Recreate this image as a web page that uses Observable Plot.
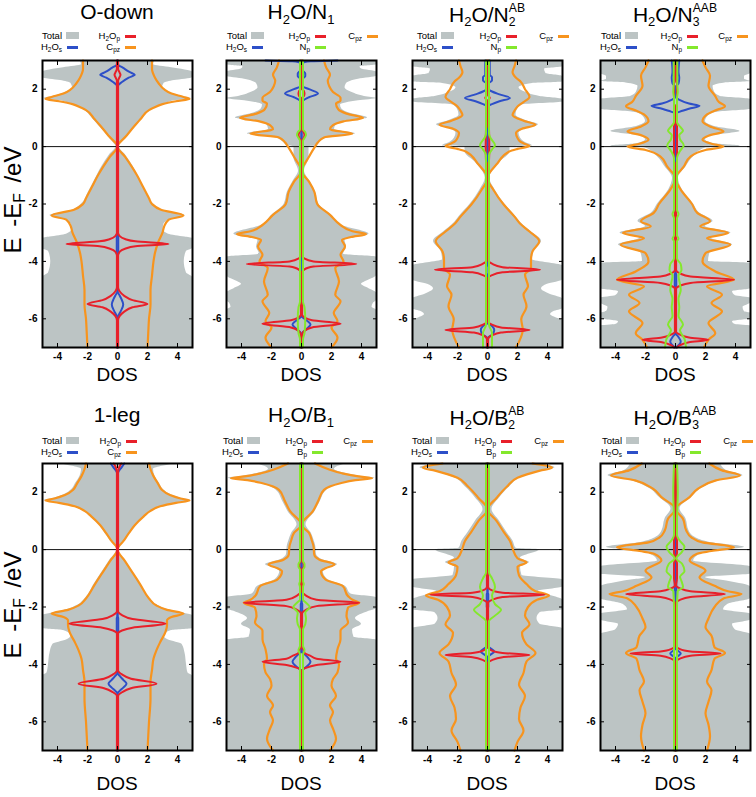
<!DOCTYPE html>
<html><head><meta charset="utf-8">
<script src="https://cdn.jsdelivr.net/npm/d3@7"></script>
<script src="https://cdn.jsdelivr.net/npm/@observablehq/plot@0.6"></script>
<style>
body{margin:0;background:#fff;font-family:"Liberation Sans",Arial,sans-serif;color:#000;}
#wrap{position:relative;width:756px;height:797px;overflow:hidden;background:#fff;}
.pan{position:absolute;}
.title{position:absolute;font-size:21px;line-height:22px;white-space:nowrap;transform:translateX(-50%);}
.dos{position:absolute;font-size:19px;line-height:20px;white-space:nowrap;transform:translateX(-50%);}
.ylab{position:absolute;font-size:24px;line-height:24px;white-space:nowrap;transform:translate(-50%,-50%) rotate(-90deg);word-spacing:4px;}
.ylab sub{font-size:0.65em;vertical-align:-0.25em;line-height:0;}
.title sub{font-size:0.62em;vertical-align:-0.35em;line-height:0;}
.st{display:inline-block;vertical-align:-0.4em;font-size:0.58em;line-height:1.18em;text-align:left;}
.st span{display:block;}
.leg{position:absolute;font-size:9.5px;line-height:9px;height:9px;white-space:nowrap;transform:translateX(-100%);}
.leg sub{font-size:0.68em;vertical-align:-0.25em;line-height:0;}
.sw{position:absolute;}
</style>
</head><body><div id="wrap"></div>
<script>
// ---------- data: [energy (eV), DOS half-width] ----------
// Panel 1: O-down
const p1_total=[[3.0,2.5],[2.85,2.4],[2.75,3.6],[2.6,5],[2.4,5],[2.3,3.8],[2.2,3.1],[2.05,3.0],[1.9,3.4],[1.75,4.3],[1.68,4.9],[1.6,3.8],[1.5,3.2],[1.3,2.3],[1.0,1.7],[0.7,1.2],[0.4,0.7],[0.15,0.3],[0,0.1],[-0.3,0.55],[-0.7,1.05],[-1.2,1.55],[-1.6,1.95],[-2.0,2.4],[-2.25,3.2],[-2.4,4.5],[-2.55,3.5],[-2.7,3.1],[-2.9,3.05],[-3.05,3.4],[-3.15,4.5],[-3.2,5],[-3.55,5],[-3.65,4.6],[-4.0,4.45],[-4.4,4.6],[-4.55,5],[-7,5]];
const p1_cpz=[[3.0,2.3],[2.7,2.3],[2.4,2.5],[2.2,2.75],[2.0,3.1],[1.85,3.6],[1.73,4.4],[1.66,4.8],[1.58,3.9],[1.48,3.0],[1.35,2.4],[1.27,2.1],[1.0,1.6],[0.7,1.1],[0.35,0.55],[0,0],[-0.35,0.5],[-0.7,0.95],[-1.0,1.3],[-1.4,1.7],[-1.8,2.1],[-2.0,2.3],[-2.2,2.9],[-2.4,4.4],[-2.55,3.4],[-2.8,3.1],[-3.0,3.0],[-3.35,2.7],[-3.7,2.5],[-4.0,2.4],[-4.5,2.3],[-5.0,2.2],[-5.5,2.2],[-6.0,2.1],[-6.5,2.05],[-7,2.0]];
const p1_h2os=[[3.0,0],[2.85,0.05],[2.75,0.35],[2.6,0.8],[2.5,1.15],[2.4,0.75],[2.25,0.3],[2.14,0.05],[2.0,0],[-3.0,0],[-3.1,0.05],[-3.7,0.05],[-3.8,0],[-5.05,0],[-5.15,0.1],[-5.3,0.25],[-5.5,0.38],[-5.7,0.25],[-5.85,0.1],[-5.95,0],[-7,0]];
const p1_h2op=[[3.0,0.04],[2.7,0.04],[2.6,0.12],[2.5,0.2],[2.4,0.12],[2.3,0.04],[-3.0,0.04],[-3.12,0.15],[-3.22,0.5],[-3.3,1.2],[-3.39,3.4],[-3.47,1.2],[-3.56,0.5],[-3.66,0.15],[-3.8,0.04],[-4.9,0.04],[-5.05,0.15],[-5.2,0.45],[-5.35,1.0],[-5.48,2.0],[-5.6,1.0],[-5.75,0.45],[-5.9,0.15],[-6.05,0.04],[-7,0.04]];
// Panel 2: H2O/N1
const p2_total=[[3.0,5],[2.85,5],[2.78,3.9],[2.7,4.0],[2.6,5],[2.45,5],[2.35,3.8],[2.2,3.0],[2.05,2.9],[1.9,3.3],[1.75,4.2],[1.68,5],[1.6,3.8],[1.45,2.6],[1.3,2.7],[1.15,3.3],[1.0,4.4],[0.88,3.0],[0.75,2.3],[0.6,2.2],[0.45,3.6],[0.32,1.8],[0.15,1.2],[0.02,0.95],[0,0.5],[-0.4,0.5],[-0.85,0.2],[-1.2,0.55],[-1.6,0.95],[-2.0,1.15],[-2.4,2.0],[-2.75,2.7],[-3.05,4.5],[-3.25,2.9],[-3.5,3.0],[-3.75,2.8],[-3.85,5],[-4.5,5],[-4.65,4.5],[-4.8,4.0],[-4.95,4.5],[-5.1,5],[-5.35,5],[-5.45,4.8],[-5.6,4.7],[-5.7,5],[-7,5]];
const p2_cpz=[[3.0,1.5],[2.75,1.65],[2.5,1.9],[2.3,1.75],[2.1,1.85],[1.9,2.1],[1.7,2.6],[1.6,2.6],[1.5,2.3],[1.3,2.45],[1.15,3.0],[1.0,4.1],[0.88,2.8],[0.75,2.1],[0.6,1.9],[0.45,3.4],[0.32,1.5],[0.15,1.1],[0,0.9],[-0.4,0.45],[-0.85,0],[-1.22,0.5],[-1.57,0.85],[-2.0,1.05],[-2.38,1.9],[-2.73,2.6],[-2.95,3.4],[-3.05,4.3],[-3.15,3.3],[-3.25,2.7],[-3.48,2.9],[-3.77,2.6],[-4.0,2.8],[-4.23,2.25],[-4.7,2.5],[-5.16,2.25],[-5.39,2.6],[-5.8,2.15],[-6.08,2.4],[-6.3,2.0],[-6.66,2.4],[-7,2.0]];
const p2_h2os=[[3.0,2.4],[2.97,0.6],[2.93,0.1],[2.65,0.1],[2.55,0.25],[2.45,0.25],[2.35,0.05],[2.1,0.1],[2.0,0.5],[1.85,1.1],[1.72,0.5],[1.6,0.1],[1.5,0],[-3.9,0],[-4.0,0.05],[-4.3,0.05],[-4.4,0],[-5.9,0],[-6.0,0.2],[-6.2,0.6],[-6.35,0.35],[-6.5,0.05],[-7,0]];
const p2_h2op=[[3.0,0.04],[2.0,0.04],[1.95,0.15],[1.85,0.2],[1.75,0.15],[1.7,0.04],[0.6,0.04],[0.5,0.15],[0.4,0.2],[0.3,0.15],[0.2,0.04],[-3.8,0.04],[-3.9,0.2],[-4.0,0.8],[-4.09,3.65],[-4.18,0.8],[-4.28,0.2],[-4.4,0.04],[-5.85,0.04],[-5.95,0.2],[-6.05,0.7],[-6.17,2.6],[-6.3,0.7],[-6.42,0.2],[-6.55,0.04],[-7,0.04]];
const p2_np=[[3.0,0.1],[0.6,0.1],[0.5,0.25],[0.4,0.3],[0.3,0.2],[0.2,0.1],[-5.4,0.1],[-5.6,0.2],[-6.0,0.25],[-6.5,0.2],[-6.7,0.1],[-7,0.1]];
// Panel 3: H2O/N2^AB
const p3_total=[[3.0,5],[2.78,5],[2.7,3.8],[2.55,3.9],[2.45,5],[2.25,5],[2.2,3.0],[2.05,2.1],[1.9,2.5],[1.75,3.5],[1.65,5],[1.55,5],[1.45,2.3],[1.3,2.0],[1.1,1.9],[0.9,2.6],[0.76,3.4],[0.6,2.4],[0.47,2.1],[0.3,2.2],[0.15,2.5],[0.02,3.0],[0,1.5],[-0.17,1.5],[-0.58,0.75],[-1.1,0.15],[-1.5,0.5],[-2.0,1.15],[-2.44,1.9],[-2.67,2.25],[-2.96,2.9],[-3.3,3.6],[-3.65,3.1],[-3.94,3.0],[-4.05,4.0],[-4.15,5],[-4.65,5],[-4.8,4.0],[-4.95,3.6],[-5.15,4.2],[-5.3,5],[-5.65,5],[-5.75,4.4],[-5.85,4.2],[-5.97,4.6],[-6.05,5],[-7,5]];
const p3_cpz=[[3.0,1.9],[2.8,1.8],[2.6,1.67],[2.4,1.9],[2.27,2.2],[2.0,2.5],[1.74,2.8],[1.55,2.4],[1.4,2.0],[1.25,1.8],[1.1,1.67],[0.9,2.4],[0.76,3.2],[0.62,2.3],[0.47,1.9],[0.3,2.0],[0.17,2.2],[0.07,2.6],[0.02,2.8],[-0.08,2.0],[-0.17,1.45],[-0.58,0.67],[-1.1,0],[-1.51,0.4],[-2.0,1.05],[-2.44,1.8],[-2.67,2.15],[-2.96,2.8],[-3.3,3.45],[-3.65,3.0],[-3.94,2.9],[-4.23,2.9],[-4.46,2.5],[-4.87,2.7],[-5.16,2.4],[-5.56,2.6],[-6.02,2.25],[-6.37,2.35],[-7,1.9]];
const p3_h2os=[[3.0,0.15],[2.5,0.15],[2.42,0.3],[2.3,0.3],[2.22,0.1],[2.0,0.05],[1.92,0.3],[1.82,0.8],[1.69,1.5],[1.58,0.8],[1.48,0.3],[1.4,0],[-4.1,0],[-4.2,0.08],[-4.4,0.08],[-4.5,0],[-6.15,0],[-6.25,0.3],[-6.4,0.45],[-6.55,0.3],[-6.65,0.05],[-7,0]];
const p3_h2op=[[3.0,0.04],[1.8,0.04],[1.7,0.15],[1.6,0.04],[0.75,0.04],[0.6,0.1],[0,0.12],[-0.5,0.1],[-0.6,0.04],[-3.95,0.04],[-4.08,0.3],[-4.2,1.0],[-4.29,3.5],[-4.38,1.0],[-4.48,0.3],[-4.6,0.04],[-6.1,0.04],[-6.2,0.3],[-6.3,0.9],[-6.39,2.8],[-6.48,0.9],[-6.58,0.3],[-6.7,0.04],[-7,0.04]];
const p3_np=[[3.0,0.1],[0.45,0.1],[0.3,0.2],[0.05,0.5],[-0.1,0.3],[-0.3,0.1],[-6.2,0.1],[-6.5,0.3],[-7,0.3]];
// Panel 4: H2O/N3^AAB
const p4_total=[[3.0,5],[2.55,5],[2.45,4.6],[2.35,4.6],[2.27,5],[2.22,3.3],[2.1,2.5],[1.9,2.6],[1.75,3.0],[1.65,5],[1.3,5],[1.2,2.8],[1.12,2.3],[0.88,2.0],[0.7,2.6],[0.53,4.3],[0.38,2.4],[0.24,2.0],[0.1,2.6],[0.02,4.3],[0,4.3],[-0.05,2.0],[-0.35,1.2],[-0.7,0.7],[-1.1,0.2],[-1.5,0.45],[-2.0,1.2],[-2.31,1.6],[-2.6,2.5],[-2.78,2.0],[-3.01,3.7],[-3.19,2.4],[-3.42,3.8],[-3.71,2.3],[-4.0,2.2],[-4.06,5],[-4.95,5],[-5.05,3.8],[-5.2,4.0],[-5.28,5],[-5.45,5],[-5.6,4.5],[-5.75,4.6],[-5.8,5],[-6.0,5],[-6.1,3.8],[-6.2,4.0],[-6.25,5],[-7,5]];
const p4_cpz=[[3.0,1.8],[2.76,2.0],[2.47,2.3],[2.12,2.2],[1.76,2.65],[1.55,2.9],[1.41,3.3],[1.25,2.6],[1.12,2.1],[0.88,1.8],[0.7,2.3],[0.53,3.2],[0.38,2.2],[0.24,1.8],[0.1,2.4],[0,3.2],[-0.12,2.0],[-0.35,1.0],[-0.7,0.55],[-1.1,0],[-1.5,0.35],[-2.0,1.1],[-2.31,1.45],[-2.6,2.3],[-2.78,1.65],[-3.01,3.5],[-3.19,2.1],[-3.42,3.65],[-3.71,2.0],[-4.0,1.8],[-4.35,2.65],[-4.64,3.9],[-4.87,2.1],[-5.16,3.1],[-5.45,2.4],[-5.74,3.1],[-6.15,2.2],[-6.5,2.65],[-6.73,2.2],[-7,1.9]];
const p4_h2os=[[3.0,0.25],[2.6,0.2],[2.4,0.25],[2.2,0.2],[2.1,0.05],[1.7,0.05],[1.62,0.3],[1.5,0.9],[1.42,1.6],[1.32,0.9],[1.22,0.3],[1.15,0],[-4.4,0],[-4.45,0.05],[-4.85,0.05],[-4.9,0],[-6.5,0],[-6.6,0.15],[-6.8,0.35],[-6.95,0.15],[-7,0.05]];
const p4_h2op=[[3.0,0.04],[2.3,0.04],[2.2,0.1],[1.5,0.1],[1.4,0.04],[0.8,0.04],[0.7,0.1],[-0.5,0.1],[-0.6,0.04],[-4.3,0.04],[-4.42,0.3],[-4.53,1.0],[-4.64,3.9],[-4.75,1.0],[-4.85,0.3],[-4.95,0.04],[-6.45,0.04],[-6.55,0.3],[-6.65,0.9],[-6.73,2.2],[-6.82,0.9],[-6.92,0.3],[-7,0.1]];
const p4_np=[[3.0,0.12],[2.2,0.12],[1.9,0.15],[1.7,0.1],[0.85,0.1],[0.7,0.3],[0.55,0.5],[0.4,0.25],[0.25,0.3],[0.05,0.55],[-0.15,0.3],[-0.4,0.1],[-2.2,0.1],[-2.35,0.2],[-2.5,0.1],[-3.1,0.1],[-3.2,0.2],[-3.3,0.1],[-3.9,0.1],[-4.1,0.35],[-4.3,0.4],[-4.5,0.2],[-4.8,0.3],[-5.0,0.35],[-5.3,0.2],[-5.6,0.25],[-5.9,0.2],[-6.2,0.5],[-6.4,0.3],[-6.7,0.6],[-7,0.7]];
// Panel 5: 1-leg
const p5_total=[[3.0,3.9],[2.9,3.0],[2.8,2.4],[2.56,2.5],[2.3,2.8],[2.09,3.05],[1.9,3.6],[1.78,4.3],[1.71,4.9],[1.63,4.0],[1.51,3.0],[1.35,2.3],[1.16,1.85],[0.85,1.2],[0.58,0.85],[0.3,0.45],[0,0.05],[-0.4,0.55],[-0.8,1.05],[-1.2,1.55],[-1.7,2.15],[-1.95,2.7],[-2.1,3.4],[-2.23,4.5],[-2.3,5],[-2.75,5],[-2.82,3.6],[-3.0,3.1],[-3.15,3.4],[-3.3,4.3],[-3.6,4.5],[-4.0,4.6],[-4.3,4.7],[-4.4,5],[-7,5]];
const p5_cpz=[[3.0,2.1],[2.8,2.2],[2.56,2.4],[2.3,2.7],[2.09,2.95],[1.9,3.5],[1.78,4.2],[1.71,4.8],[1.63,3.9],[1.51,2.85],[1.35,2.2],[1.16,1.75],[0.85,1.15],[0.58,0.77],[0.3,0.4],[0,0],[-0.4,0.5],[-0.8,1.0],[-1.2,1.5],[-1.7,2.1],[-1.95,2.6],[-2.1,3.3],[-2.23,4.4],[-2.35,3.6],[-2.47,3.3],[-2.64,3.3],[-2.87,3.2],[-3.22,2.85],[-3.5,2.6],[-3.8,2.4],[-4.2,2.3],[-4.6,2.2],[-5.2,2.2],[-6.0,2.1],[-7,2.0]];
const p5_h2os=[[3.0,0.45],[2.85,0.25],[2.7,0.05],[2.6,0],[-2.3,0],[-2.4,0.05],[-2.85,0.05],[-2.95,0],[-4.3,0],[-4.4,0.15],[-4.55,0.4],[-4.67,0.6],[-4.8,0.4],[-4.92,0.15],[-5.02,0],[-7,0]];
const p5_h2op=[[3.0,0.25],[2.85,0.1],[2.7,0.04],[-2.15,0.04],[-2.28,0.3],[-2.42,1.0],[-2.58,3.2],[-2.72,1.0],[-2.82,0.3],[-2.92,0.04],[-4.2,0.04],[-4.35,0.3],[-4.5,0.9],[-4.67,2.6],[-4.83,0.9],[-4.97,0.3],[-5.1,0.04],[-7,0.04]];
// Panel 6: H2O/B1
const p6_total=[[3.0,3.0],[2.8,2.2],[2.66,2.9],[2.55,4.0],[2.49,4.9],[2.42,3.8],[2.31,2.8],[2.08,1.7],[1.68,1.25],[1.33,0.9],[0.87,0.3],[0.58,0.65],[0.3,0.85],[0.12,0.95],[-0.17,1.0],[-0.35,1.4],[-0.52,2.4],[-0.65,1.8],[-0.75,1.45],[-1.04,1.75],[-1.27,2.9],[-1.55,3.3],[-1.68,5],[-2.05,5],[-2.15,4.5],[-2.4,3.6],[-2.6,4.0],[-2.8,3.4],[-3.05,3.5],[-3.15,5],[-7,5]];
const p6_cpz=[[3.0,0.9],[2.8,1.8],[2.66,2.7],[2.55,3.8],[2.49,4.7],[2.42,3.6],[2.31,2.6],[2.08,1.5],[1.68,1.1],[1.33,0.75],[0.87,0],[0.58,0.5],[0.3,0.7],[0.12,0.8],[-0.17,0.85],[-0.35,1.2],[-0.52,2.2],[-0.65,1.6],[-0.75,1.3],[-1.04,1.6],[-1.27,2.75],[-1.62,3.1],[-1.75,3.4],[-1.85,3.85],[-2.02,3.1],[-2.31,3.0],[-2.54,3.1],[-2.83,2.6],[-3.12,2.6],[-3.47,2.4],[-3.8,2.3],[-3.99,2.5],[-4.28,2.4],[-4.51,2.1],[-4.74,2.0],[-5.09,2.3],[-5.43,1.9],[-5.66,2.1],[-5.95,1.9],[-6.24,2.1],[-6.59,2.3],[-7,1.9]];
const p6_h2os=[[3.0,0],[-1.85,0],[-1.9,0.05],[-2.2,0.05],[-2.25,0],[-3.55,0],[-3.62,0.15],[-3.75,0.4],[-3.91,0.6],[-4.05,0.4],[-4.15,0.15],[-4.22,0],[-7,0]];
const p6_h2op=[[3.0,0.04],[-0.4,0.04],[-0.5,0.15],[-0.6,0.15],[-0.7,0.04],[-1.45,0.04],[-1.6,0.3],[-1.75,1.0],[-1.85,3.85],[-1.97,1.0],[-2.1,0.3],[-2.22,0.04],[-3.4,0.04],[-3.5,0.15],[-3.6,0.2],[-3.7,0.6],[-3.8,1.0],[-3.91,2.6],[-4.02,1.0],[-4.12,0.3],[-4.2,0.04],[-7,0.04]];
const p6_bp=[[3.0,0.1],[-0.4,0.1],[-0.5,0.2],[-0.6,0.2],[-0.7,0.1],[-1.1,0.1],[-1.2,0.15],[-1.3,0.1],[-1.75,0.1],[-1.85,0.3],[-2.0,0.55],[-2.2,0.25],[-2.4,0.3],[-2.6,0.25],[-2.78,0.1],[-3.35,0.1],[-3.5,0.2],[-3.65,0.1],[-7,0.1]];
// Panel 7: H2O/B2^AB
const p7_total=[[3.0,3.3],[2.85,4.5],[2.75,3.7],[2.5,2.2],[2.2,1.5],[1.8,0.8],[1.4,0.3],[1.0,0.8],[0.6,1.3],[0.3,1.7],[0.05,1.9],[0,3.5],[-0.3,2.2],[-0.45,2.8],[-0.6,2.2],[-0.9,2.3],[-1.05,5],[-1.3,5],[-1.45,3.4],[-1.6,4.2],[-1.75,5],[-2.1,5],[-2.2,3.5],[-2.4,3.3],[-2.6,3.5],[-2.75,5],[-7,5]];
const p7_cpz=[[3.0,3.0],[2.85,4.3],[2.75,3.5],[2.5,2.0],[2.2,1.3],[1.8,0.6],[1.4,0],[1.0,0.6],[0.6,1.1],[0.3,1.5],[0,1.7],[-0.3,2.0],[-0.45,2.6],[-0.6,2.0],[-0.9,2.1],[-1.2,2.6],[-1.45,3.2],[-1.6,4.1],[-1.75,3.3],[-2.0,2.7],[-2.3,2.5],[-2.6,2.8],[-2.9,2.3],[-3.3,2.6],[-3.6,3.2],[-3.9,2.6],[-4.3,2.4],[-4.7,2.1],[-5.1,2.5],[-5.5,2.2],[-5.9,2.1],[-6.3,2.4],[-6.7,2.0],[-7,1.8]];
const p7_h2os=[[3.0,0],[-1.5,0],[-1.55,0.05],[-2.0,0.05],[-2.05,0],[-3.35,0],[-3.42,0.15],[-3.55,0.45],[-3.68,0.15],[-3.75,0],[-7,0]];
const p7_h2op=[[3.0,0.04],[-1.3,0.04],[-1.42,0.3],[-1.5,1.0],[-1.57,3.8],[-1.65,1.0],[-1.75,0.3],[-1.85,0.04],[-3.4,0.04],[-3.52,0.3],[-3.6,1.0],[-3.67,2.8],[-3.75,1.0],[-3.85,0.3],[-3.95,0.04],[-7,0.04]];
const p7_bp=[[3.0,0.1],[-0.8,0.1],[-1.0,0.3],[-1.3,0.5],[-1.6,0.3],[-1.9,0.5],[-2.1,0.9],[-2.3,0.5],[-2.5,0.1],[-7,0.1]];
// Panel 8: H2O/B3^AAB
const p8_total=[[3.0,3.0],[2.76,3.4],[2.58,4.5],[2.41,3.0],[2.12,1.7],[1.83,1.1],[1.42,0.3],[1.07,0.7],[0.66,0.9],[0.43,1.3],[0.25,2.3],[0.08,4.6],[-0.05,2.6],[-0.15,1.7],[-0.4,1.2],[-0.6,5],[-0.85,5],[-0.97,2.0],[-1.1,3.5],[-1.3,5],[-1.7,5],[-1.9,3.5],[-2.1,3.2],[-2.25,5],[-2.45,5],[-2.6,3.8],[-2.8,4.0],[-2.95,5],[-7,5]];
const p8_cpz=[[3.0,2.25],[2.76,3.1],[2.58,4.3],[2.41,2.7],[2.12,1.5],[1.83,0.94],[1.42,0],[1.07,0.5],[0.66,0.72],[0.43,1.05],[0.25,1.8],[0.08,3.9],[-0.05,2.4],[-0.15,1.4],[-0.38,0.94],[-0.73,2.0],[-0.97,1.6],[-1.26,2.6],[-1.45,3.5],[-1.55,4.4],[-1.7,3.2],[-2.0,2.6],[-2.4,2.2],[-2.7,2.0],[-3.0,2.4],[-3.4,2.6],[-3.6,3.3],[-3.8,2.6],[-4.2,2.4],[-4.6,2.1],[-4.9,2.4],[-5.3,2.2],[-5.7,2.0],[-6.1,2.2],[-6.5,2.3],[-7,2.1]];
const p8_h2os=[[3.0,0],[-1.0,0],[-1.05,0.05],[-1.4,0.05],[-1.45,0],[-3.45,0],[-3.52,0.15],[-3.62,0.35],[-3.72,0.15],[-3.8,0],[-7,0]];
const p8_h2op=[[3.0,0.04],[0.5,0.04],[0.3,0.1],[-0.1,0.1],[-0.3,0.04],[-0.5,0.1],[-1.0,0.1],[-1.25,0.04],[-1.35,0.3],[-1.45,1.0],[-1.55,3.3],[-1.65,1.0],[-1.75,0.3],[-1.85,0.04],[-3.35,0.04],[-3.47,0.3],[-3.55,1.0],[-3.62,3.0],[-3.7,1.0],[-3.8,0.3],[-3.9,0.04],[-7,0.04]];
const p8_bp=[[3.0,0.1],[2.0,0.15],[1.0,0.1],[0.5,0.1],[0.3,0.3],[0.1,0.6],[-0.1,0.4],[-0.3,0.05],[-0.5,0.45],[-0.75,0.6],[-0.95,0.3],[-1.1,0.4],[-1.3,0.5],[-1.45,0.15],[-2.0,0.1],[-7,0.1]];

// ---------- labels / ticks ----------
const titles=["O-down","H<sub>2</sub>O/N<sub>1</sub>","H<sub>2</sub>O/N<span class='st'><span>AB</span><span>2</span></span>","H<sub>2</sub>O/N<span class='st'><span>AAB</span><span>3</span></span>",
 "1-leg","H<sub>2</sub>O/B<sub>1</sub>","H<sub>2</sub>O/B<span class='st'><span>AB</span><span>2</span></span>","H<sub>2</sub>O/B<span class='st'><span>AAB</span><span>3</span></span>"];
const xTicks=[-4,-2,0,2,4];
const yTicks=[-6,-4,-2,0,2];
const legTotal="Total", legS="H<sub>2</sub>O<sub>s</sub>", legP="H<sub>2</sub>O<sub>p</sub>", legC="C<sub>pz</sub>", legN="N<sub>p</sub>", legB="B<sub>p</sub>";

const GRAY="#bcc4c4", ORANGE="#f7941e", RED="#e8202a", BLUE="#2d4fc8", GREEN="#84e82c";

const panels=[
 {t:0,row:0,col:0,tot:p1_total,c:p1_cpz,s:p1_h2os,p:p1_h2op,g:null,gl:null,leg:[20,78]},
 {t:1,row:0,col:1,tot:p2_total,c:p2_cpz,s:p2_h2os,p:p2_h2op,g:p2_np,gl:legN,leg:[21,84,136]},
 {t:2,row:0,col:2,tot:p3_total,c:p3_cpz,s:p3_h2os,p:p3_h2op,g:p3_np,gl:legN,leg:[25,89,141]},
 {t:3,row:0,col:3,tot:p4_total,c:p4_cpz,s:p4_h2os,p:p4_h2op,g:p4_np,gl:legN,leg:[21,82,132]},
 {t:4,row:1,col:0,tot:p5_total,c:p5_cpz,s:p5_h2os,p:p5_h2op,g:null,gl:null,leg:[20,79]},
 {t:5,row:1,col:1,tot:p6_total,c:p6_cpz,s:p6_h2os,p:p6_h2op,g:p6_bp,gl:legB,leg:[17,81,131]},
 {t:6,row:1,col:2,tot:p7_total,c:p7_cpz,s:p7_h2os,p:p7_h2op,g:p7_bp,gl:legB,leg:[20,84,136]},
 {t:7,row:1,col:3,tot:p8_total,c:p8_cpz,s:p8_h2os,p:p8_h2op,g:p8_bp,gl:legB,leg:[22,85,137]}
];

const colLeft=[42,226,412,600], rowTop=[60,463], FW=150, FH=287;
const ML=30, MR=3, MT=3, MB=22;
const titleTop=[1,404], legTop=[31,436], dosTop=[365,774], ylabY=[200,605];
const wrap=document.getElementById("wrap");

function el(cls, html, style){const d=document.createElement("div");d.className=cls;d.innerHTML=html;Object.assign(d.style,style);wrap.appendChild(d);return d;}

panels.forEach(pn=>{
  const fl=colLeft[pn.col], ft=rowTop[pn.row];
  const marks=[
    Plot.areaX(pn.tot,{y:d=>d[0],x1:d=>-Math.min(d[1],5),x2:d=>Math.min(d[1],5),fill:GRAY,curve:"monotone-y"}),
    Plot.ruleY([0],{stroke:"#111",strokeWidth:1})
  ];
  const addLine=(arr,color,w)=>{
    marks.push(Plot.line(arr,{x:d=>d[1],y:d=>d[0],stroke:color,strokeWidth:w,curve:"monotone-y"}));
    marks.push(Plot.line(arr,{x:d=>-d[1],y:d=>d[0],stroke:color,strokeWidth:w,curve:"monotone-y"}));
  };
  addLine(pn.c,ORANGE,2.2);
  addLine(pn.s,BLUE,2);
  addLine(pn.p,RED,2);
  if(pn.g) addLine(pn.g,GREEN,2);
  marks.push(Plot.frame({stroke:"#000",strokeWidth:2}));
  marks.push(Plot.axisY({ticks:yTicks,tickSize:-4,tickPadding:9,label:null,tickFormat:d=>String(d)}));
  marks.push(Plot.axisY({anchor:"right",ticks:yTicks,tickSize:-4,label:null,tickFormat:()=>""}));
  marks.push(Plot.axisX({ticks:xTicks,tickSize:-4,tickPadding:9,label:null,tickFormat:d=>String(d)}));
  marks.push(Plot.axisX({anchor:"top",ticks:xTicks,tickSize:-4,label:null,tickFormat:()=>""}));
  const svg=Plot.plot({width:FW+ML+MR,height:FH+MT+MB,marginLeft:ML,marginRight:MR,marginTop:MT,marginBottom:MB,
    x:{domain:[-5,5]},y:{domain:[-7,3]},
    style:{fontFamily:"'Liberation Sans',Arial,sans-serif",fontSize:"10px",fontWeight:"bold",background:"transparent",overflow:"visible"},
    marks});
  const holder=document.createElement("div");holder.className="pan";
  holder.style.left=(fl-ML)+"px";holder.style.top=(ft-MT)+"px";
  holder.appendChild(svg);wrap.appendChild(holder);

  const cx=fl+FW/2;
  el("title",titles[pn.t],{left:cx+"px",top:titleTop[pn.row]+"px"});
  el("dos","DOS",{left:cx+"px",top:dosTop[pn.row]+"px"});

  // legend
  const lt=legTop[pn.row];
  const items=[{h:legTotal,c:GRAY,k:"a",col:0,r:0},{h:legS,c:BLUE,k:"l",col:0,r:1},{h:legP,c:RED,k:"l",col:1,r:0}];
  if(pn.g){items.push({h:pn.gl,c:GREEN,k:"l",col:1,r:1});items.push({h:legC,c:ORANGE,k:"l",col:2,r:0});}
  else items.push({h:legC,c:ORANGE,k:"l",col:1,r:1});
  items.forEach(it=>{
    const xr=fl+pn.leg[it.col], y=lt+it.r*11;
    el("leg",it.h,{left:xr+"px",top:y+"px"});
    const sw=document.createElement("div");sw.className="sw";
    if(it.k==="a"){Object.assign(sw.style,{left:(xr+4)+"px",top:(y+1)+"px",width:"13px",height:"7px",background:it.c});}
    else{Object.assign(sw.style,{left:(xr+5)+"px",top:(y+4)+"px",width:"11px",height:"2.5px",background:it.c});}
    wrap.appendChild(sw);
  });
});
[0,1].forEach(r=>el("ylab","E -E<sub>F</sub> /eV",{left:"13px",top:ylabY[r]+"px"}));
</script>
</body></html>
